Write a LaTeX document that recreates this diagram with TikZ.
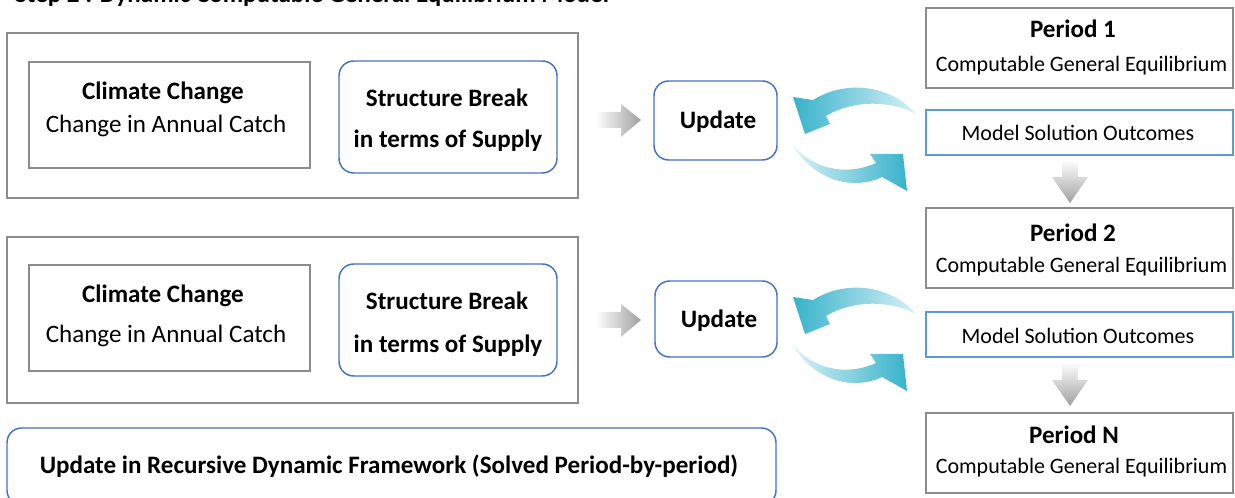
\documentclass[tikz,border=0pt]{standalone}
\usepackage{fontspec}
\setmainfont{Carlito}
\definecolor{boxgray}{HTML}{8C8C8C}
\definecolor{boxblue}{HTML}{4472C4}
\definecolor{msoblue}{HTML}{5B9BD5}
\definecolor{cyanD}{HTML}{38B2CB}
\definecolor{cyanL}{HTML}{D8F1F6}
\definecolor{arrgray}{HTML}{A0A0A0}
\begin{document}
\begin{tikzpicture}[x=0.75pt,y=-0.75pt,
  every node/.style={inner sep=0pt, outer sep=0pt},
  graybox/.style={draw=boxgray, line width=1.1pt},
  bluebox/.style={draw=boxblue, line width=1.1pt, rounded corners=11pt},
  msobox/.style={draw=msoblue, line width=1pt},
  lbl/.style={font=\fontsize{16.5pt}{19pt}\selectfont, text height=0.6em, text depth=0pt, yshift=-2.5pt},
  llbl/.style={font=\fontsize{18.8pt}{22pt}\selectfont, text height=0.6em, text depth=0pt, yshift=-2.5pt},
  blbl/.style={font=\fontsize{18.8pt}{22pt}\selectfont\bfseries, text height=0.6em, text depth=0pt, yshift=-2.5pt},
  grayarrow/.style={left color=white, right color=arrgray},
  downarrow/.style={top color=white, bottom color=arrgray}]
\useasboundingbox (0,0) rectangle (1235,498);
\clip (0,0) rectangle (1235,498);

% title (cut off at the top, as in the reference)
\node[font=\fontsize{18.8pt}{22pt}\selectfont\bfseries, anchor=base west] (title) at (15,3) {Step 2 : Dynamic Computable General Equilibrium Model};

% ---------- row 1 ----------
\node[graybox, minimum width=428.25pt, minimum height=123.75pt] (outer1) at (292.5,115.5) {};
\node[graybox, minimum width=210.75pt, minimum height=79.5pt] (clim1) at (169.5,115) {};
\node[blbl] (clim1a) at (163,92) {Climate Change};
\node[llbl] (clim1b) at (166,125) {Change in Annual Catch};
\node[bluebox, minimum width=163.5pt, minimum height=84pt] (sb1) at (448,117) {};
\node[blbl] (sb1a) at (447,99) {Structure Break};
\node[blbl] (sb1b) at (448,140) {in terms of Supply};
\node[bluebox, minimum width=92.25pt, minimum height=59.25pt] (up1) at (715.5,120.5) {};
\node[blbl] (up1t) at (718,121) {Update};

% ---------- row 2 ----------
\node[graybox, minimum width=428.25pt, minimum height=124.5pt] (outer2) at (292.5,320) {};
\node[graybox, minimum width=210.75pt, minimum height=79.5pt] (clim2) at (169.5,318) {};
\node[blbl] (clim2a) at (163,295) {Climate Change};
\node[llbl] (clim2b) at (166,335) {Change in Annual Catch};
\node[bluebox, minimum width=163.5pt, minimum height=84pt] (sb2) at (448,320) {};
\node[blbl] (sb2a) at (447,302) {Structure Break};
\node[blbl] (sb2b) at (448,345) {in terms of Supply};
\node[bluebox, minimum width=91.5pt, minimum height=57pt] (up2) at (716,319) {};
\node[blbl] (up2t) at (719,320) {Update};

% ---------- right column ----------
\node[graybox, minimum width=230.25pt, minimum height=60pt] (p1) at (1079.5,48) {};
\node[blbl] (p1a) at (1073,30) {Period 1};
\node[lbl] (p1b) at (1081.5,64) {Computable General Equilibrium};
\node[msobox, minimum width=230.25pt, minimum height=33.75pt] (mso1) at (1079.5,132.5) {};
\node[lbl] (mso1t) at (1078,133) {Model Solution Outcomes};
\node[graybox, minimum width=230.25pt, minimum height=60pt] (p2) at (1079.5,248) {};
\node[blbl] (p2a) at (1073,234) {Period 2};
\node[lbl] (p2b) at (1081.5,265) {Computable General Equilibrium};
\node[msobox, minimum width=230.25pt, minimum height=33.75pt] (mso2) at (1079.5,334.5) {};
\node[lbl] (mso2t) at (1078,336) {Model Solution Outcomes};
\node[graybox, minimum width=230.25pt, minimum height=60pt] (pN) at (1079.5,453) {};
\node[blbl] (pNa) at (1074,436) {Period N};
\node[lbl] (pNb) at (1081.5,466) {Computable General Equilibrium};

% bottom box
\node[bluebox, minimum width=576.75pt, minimum height=57.75pt] (bot) at (391.5,466.5) {};
\node[blbl] (bott) at (389,466) {Update in Recursive Dynamic Framework (Solved Period-by-period)};

% ---------- gray block arrows ----------
\foreach \dy in {0,200}{
  \shade[grayarrow] (595,112+\dy) -- (621,112+\dy) -- (621,104+\dy) -- (641,120+\dy)
        -- (621,137+\dy) -- (621,128+\dy) -- (595,128+\dy) -- cycle;
}
\shade[downarrow] (1062,160) -- (1078,160) -- (1078,177) -- (1088,177) -- (1070,203)
        -- (1052,177) -- (1062,177) -- cycle;
\shade[downarrow] (1062,362) -- (1078,362) -- (1078,380) -- (1088,380) -- (1070,406)
        -- (1052,380) -- (1062,380) -- cycle;

% ---------- curved cyan arrows ----------
\foreach \dy in {0,200}{
  \shade[left color=cyanD, right color=cyanL]
    (916,114+\dy) .. controls (890,84+\dy) and (845,80+\dy) .. (813,100+\dy)
    -- (793,97+\dy) -- (805,134+\dy) -- (830,124+\dy) -- (826,116+\dy)
    .. controls (852,100+\dy) and (890,100+\dy) .. (916,114+\dy) -- cycle;
  \shade[left color=cyanL, right color=cyanD]
    (793,145+\dy) .. controls (812,178+\dy) and (850,192+\dy) .. (882,177+\dy)
    -- (907,191+\dy) -- (903,154+\dy) -- (870,154+\dy) -- (876,163+\dy)
    .. controls (845,177+\dy) and (812,168+\dy) .. (793,145+\dy) -- cycle;
}
\end{tikzpicture}
\end{document}
